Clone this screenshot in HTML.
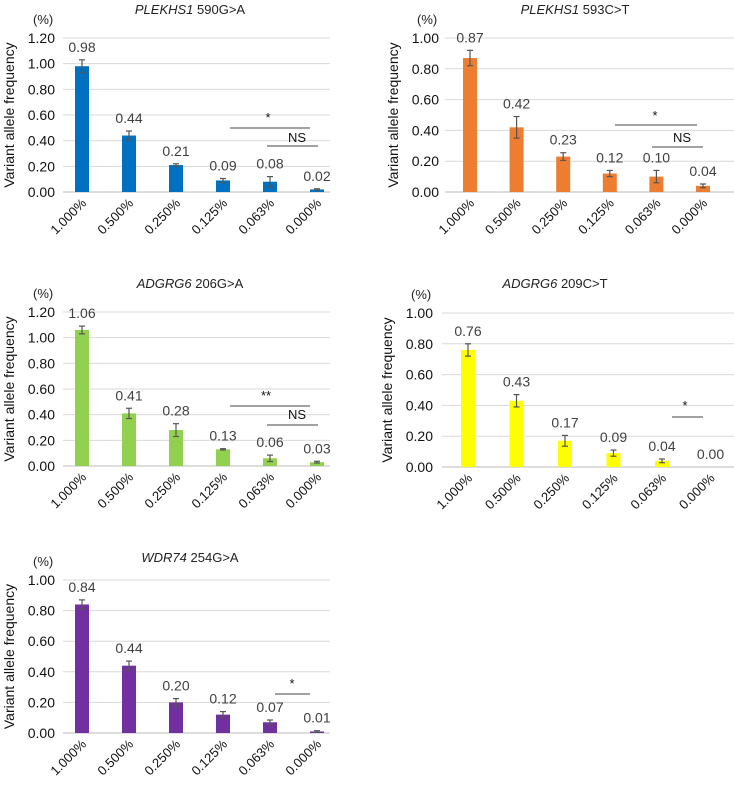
<!DOCTYPE html>
<html><head><meta charset="utf-8"><style>
body{margin:0;background:#fff;}
svg text{font-family:"Liberation Sans",sans-serif;}
</style></head><body>
<svg id="c" width="734" height="789"></svg>
<script>
const categories=["1.000%","0.500%","0.250%","0.125%","0.063%","0.000%"];
const titlesItalic=["PLEKHS1","PLEKHS1","ADGRG6","ADGRG6","WDR74"];
const titlesRest=[" 590G>A"," 593C>T"," 206G>A"," 209C>T"," 254G>A"];
const values1=[0.98,0.44,0.21,0.09,0.08,0.02];
const errors1=[0.05,0.035,0.01,0.015,0.04,0.005];
const values2=[0.87,0.42,0.23,0.12,0.10,0.04];
const errors2=[0.05,0.07,0.025,0.02,0.04,0.012];
const values3=[1.06,0.41,0.28,0.13,0.06,0.03];
const errors3=[0.03,0.04,0.05,0.005,0.025,0.007];
const values4=[0.76,0.43,0.17,0.09,0.04,0.00];
const errors4=[0.04,0.04,0.035,0.02,0.012,0];
const values5=[0.84,0.44,0.20,0.12,0.07,0.01];
const errors5=[0.03,0.03,0.025,0.02,0.015,0.005];
const yMax=[1.2,1.0,1.2,1.0,1.0];
const yTicks1=["0.00","0.20","0.40","0.60","0.80","1.00","1.20"];
const yTicks2=["0.00","0.20","0.40","0.60","0.80","1.00"];
const svg=document.getElementById('c');
const NS='http://www.w3.org/2000/svg';
function mk(tag,attrs,parent){const e=document.createElementNS(NS,tag);for(const k in attrs)e.setAttribute(k,attrs[k]);(parent||svg).appendChild(e);return e;}
const panels=[
 {vals:values1,errs:errors1,ticks:yTicks1,max:yMax[0],color:"#0070c0",x0:82,dx:47,top:38,bot:192,tickX:55,gx0:63,gx1:330,titleY:14,titleX:190,
  ann:[{t:"*",x:268,y:122,x1:230,x2:310,ly:128},{t:"NS",x:297,y:142,x1:267,x2:318,ly:146}]},
 {vals:values2,errs:errors2,ticks:yTicks2,max:yMax[1],color:"#ed7d31",x0:470,dx:46.6,top:38,bot:192,tickX:439,gx0:445,gx1:734,titleY:14,titleX:575,
  ann:[{t:"*",x:655,y:120,x1:615,x2:697,ly:125},{t:"NS",x:682,y:142,x1:652,x2:703,ly:147}]},
 {vals:values3,errs:errors3,ticks:yTicks1,max:yMax[2],color:"#92d050",x0:82,dx:47,top:312,bot:466,tickX:55,gx0:63,gx1:330,titleY:288,titleX:190,
  ann:[{t:"**",x:266,y:400,x1:230,x2:310,ly:406},{t:"NS",x:297,y:419,x1:267,x2:318,ly:425}]},
 {vals:values4,errs:errors4,ticks:yTicks2,max:yMax[3],color:"#ffff00",x0:468,dx:48.5,top:313,bot:467,tickX:433,gx0:442,gx1:734,titleY:288,titleX:555,
  ann:[{t:"*",x:685,y:410,x1:672,x2:703,ly:417}]},
 {vals:values5,errs:errors5,ticks:yTicks2,max:yMax[4],color:"#7030a0",x0:82,dx:47,top:580,bot:733,tickX:55,gx0:63,gx1:330,titleY:562,titleX:190,
  ann:[{t:"*",x:292,y:688,x1:275,x2:310,ly:694}]}
];
panels.forEach((p,pi)=>{
 const g=mk('g',{});
 
 
 const yS=v=>p.bot-(v/p.max)*(p.bot-p.top);
 const xS=i=>p.x0+i*p.dx;
 const t=mk('text',{x:p.titleX,y:p.titleY,'text-anchor':'middle','font-size':13,fill:'#222'},g);
 
 const ti=mk('tspan',{'font-style':'italic'},t);ti.textContent=titlesItalic[pi];
 const tr=mk('tspan',{},t);tr.textContent=titlesRest[pi];
 const u=mk('text',{x:p.tickX-22,y:p.top-14,'font-size':13,fill:'#222'},g);u.textContent="(%)";
 
 const yt=mk('text',{transform:`translate(${p.tickX-41},${(p.top+p.bot)/2}) rotate(-90)`,'text-anchor':'middle','font-size':14,fill:'#111'},g);
 yt.textContent="Variant allele frequency";
 
 p.ticks.forEach((lab,i)=>{
  const v=parseFloat(lab);const y=yS(v);
  const l=mk('line',{x1:p.gx0,x2:p.gx1,y1:y,y2:y,stroke:i==0?'#bbb':'#d9d9d9','stroke-width':1},g);
  
  const tx=mk('text',{x:p.tickX,y:y+5,'text-anchor':'end','font-size':14,fill:'#111'},g);tx.textContent=lab;
  
 });
 p.vals.forEach((v,i)=>{
  const cx=xS(i),y=yS(v);
  const b=mk('rect',{x:cx-7,y:y,width:14,height:p.bot-y,fill:p.color},g);
  
  const e=p.errs[i];
  if(e>0){const y1=yS(v+e),y2=yS(v-e);
   mk('line',{x1:cx,x2:cx,y1:y1,y2:y2,stroke:'#555','stroke-width':1.2},g);
   mk('line',{x1:cx-3,x2:cx+3,y1:y1,y2:y1,stroke:'#555','stroke-width':1.2},g);
   mk('line',{x1:cx-3,x2:cx+3,y1:y2,y2:y2,stroke:'#555','stroke-width':1.2},g);}
  const vl=mk('text',{x:cx,y:yS(v+e)-8,'text-anchor':'middle','font-size':14,fill:'#404040'},g);vl.textContent=v.toFixed(2);
  
  const xl=mk('text',{transform:`translate(${cx+5},${p.bot+12}) rotate(-45)`,'text-anchor':'end','font-size':13,fill:'#111'},g);xl.textContent=categories[i];
  
 });
 p.ann.forEach(a=>{
  const l=mk('line',{x1:a.x1,x2:a.x2,y1:a.ly,y2:a.ly,stroke:'#444','stroke-width':1},g);
  
  const s=mk('text',{x:a.x,y:a.y,'text-anchor':'middle','font-size':13,fill:'#111'},g);s.textContent=a.t;
  
 });
});
</script>
</body></html>
